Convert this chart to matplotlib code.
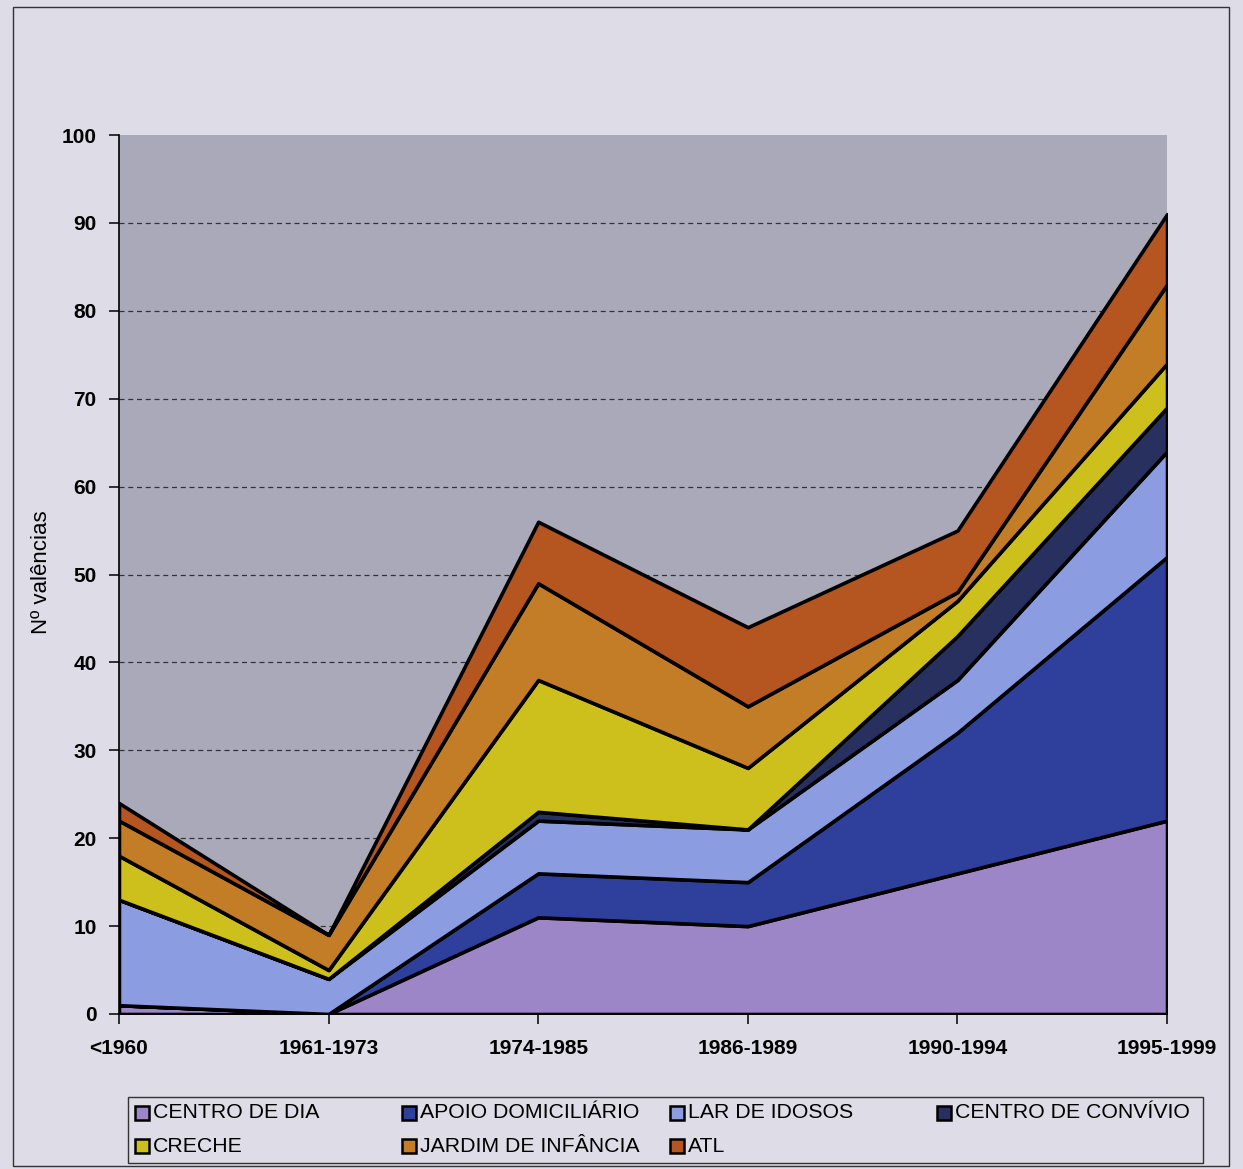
import matplotlib
matplotlib.use("Agg")
import matplotlib.pyplot as plt
from matplotlib.patches import Rectangle
import numpy as np

plt.rcParams['font.family'] = ['Liberation Sans', 'DejaVu Sans']

periods = ["<1960", "1961-1973", "1974-1985", "1986-1989", "1990-1994", "1995-1999"]

centro_de_dia = [1, 0, 11, 10, 16, 22]
apoio_domiciliario = [0, 0, 5, 5, 16, 30]
lar_de_idosos = [12, 4, 6, 6, 6, 12]
centro_de_convivio = [0, 0, 1, 0, 5, 5]
creche = [5, 1, 15, 7, 4, 5]
jardim_de_infancia = [4, 4, 11, 7, 1, 9]
atl = [2, 0, 7, 9, 7, 8]

series_names = ["CENTRO DE DIA", "APOIO DOMICILIÁRIO", "LAR DE IDOSOS",
                "CENTRO DE CONVÍVIO", "CRECHE", "JARDIM DE INFÂNCIA", "ATL"]
series_values = [centro_de_dia, apoio_domiciliario, lar_de_idosos,
                 centro_de_convivio, creche, jardim_de_infancia, atl]
series_colors = ["#9d86c8", "#2f3f9c", "#8b9de0", "#28305f",
                 "#cdbf1c", "#c27d26", "#b5551f"]

fig_bg = "#dddce7"
plot_bg = "#aaa9b9"

fig = plt.figure(figsize=(12.43, 11.69), dpi=100, facecolor=fig_bg)
ax = fig.add_axes([0.0957, 0.1326, 0.8432, 0.7519])
ax.set_facecolor(plot_bg)

x = np.arange(len(periods))
ax.stackplot(x, *series_values, colors=series_colors,
             edgecolor="black", linewidth=2.6, zorder=3)

ax.set_xlim(0, len(periods) - 1)
ax.set_ylim(0, 100)
ax.set_yticks(range(0, 101, 10))
ax.set_xticks(x)
ax.set_xticklabels(periods)

for yv in range(10, 100, 10):
    ax.axhline(yv, color="#333333", linestyle=(0, (4, 3)), linewidth=0.9, zorder=2)

for side in ("top", "right"):
    ax.spines[side].set_visible(False)
for side in ("left", "bottom"):
    ax.spines[side].set_linewidth(1.2)
    ax.spines[side].set_zorder(4)

ax.tick_params(axis="y", direction="out", length=7, width=1.1,
               labelsize=15, pad=9)
ax.tick_params(axis="x", direction="out", length=7, width=1.1,
               labelsize=15, pad=11)
for lab in ax.get_xticklabels() + ax.get_yticklabels():
    lab.set_fontweight("bold")

ax.set_ylabel("Nº valências", fontsize=16)
ax.yaxis.set_label_coords(-0.064, 0.503)

# outer chart frame
fig.patches.append(Rectangle((13 / 1243, 1 - 1166 / 1169), 1216 / 1243, 1159 / 1169,
                             transform=fig.transFigure, fill=False,
                             edgecolor="#333333", linewidth=1.0))

# legend box with row-wise entries
lx0, lx1 = 128 / 1243, 1203 / 1243
ly0, ly1 = 1 - 1163 / 1169, 1 - 1097 / 1169
fig.patches.append(Rectangle((lx0, ly0), lx1 - lx0, ly1 - ly0,
                             transform=fig.transFigure, fill=False,
                             edgecolor="#333333", linewidth=1.0))
col_x = [135, 402, 670, 937]
row_y = [1113, 1146]
for i, (name, color) in enumerate(zip(series_names, series_colors)):
    r, c = divmod(i, 4)
    px = col_x[c] / 1243
    py = 1 - row_y[r] / 1169
    sw, sh = 14 / 1243, 14 / 1169
    fig.patches.append(Rectangle((px, py - sh / 2), sw, sh, transform=fig.transFigure,
                                 facecolor=color, edgecolor="black", linewidth=1.8))
    fig.text(px + 18 / 1243, py, name, fontsize=15.3, va="center", ha="left")

fig.savefig("out.png", dpi=100, facecolor=fig_bg)
